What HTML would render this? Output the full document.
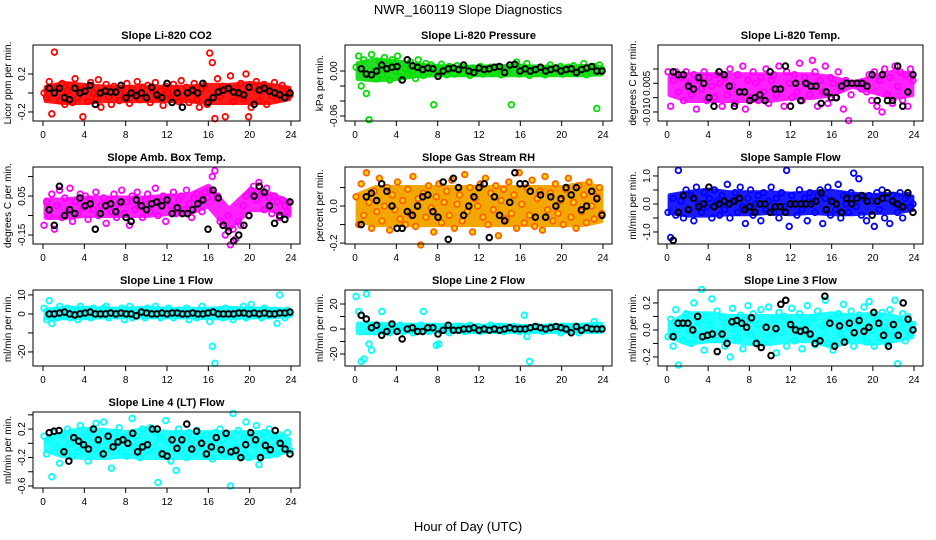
<!DOCTYPE html>
<html><head><meta charset="utf-8"><style>
body{margin:0;background:#fff;}
svg{display:block;font-family:"Liberation Sans",sans-serif;}
</style></head><body>
<svg id="c" width="936" height="540" viewBox="0 0 936 540">
<text x="468" y="14" text-anchor="middle" font-size="13">NWR_160119  Slope Diagnostics</text>
<text x="468" y="531" text-anchor="middle" font-size="13">Hour of Day (UTC)</text>
</svg>
<script>
const coColors = ["#ff0000","#00e000","#ff00ff","#ff00ff","#ff8c00","#0000ff","#00ffff","#00ffff","#00ffff","#00ffff"];
const bandColors = ["#ff1a1a","#22dd22","#ff22ff","#ff22ff","#f2a800","#1a1aff","#22ffff","#22ffff","#22ffff","#22ffff"];
const titles = ["Slope Li-820 CO2","Slope Li-820 Pressure","Slope Li-820 Temp.","Slope Amb. Box Temp.","Slope Gas Stream RH","Slope Sample Flow","Slope Line 1 Flow","Slope Line 2 Flow","Slope Line 3 Flow","Slope Line 4 (LT) Flow"];
const yTitles = ["Licor ppm per min.","kPa per min.","degrees C per min.","degrees C per min.","percent per min.","ml/min per min.","ml/min per min.","ml/min per min.","ml/min per min.","ml/min per min."];
const xTicks = [0,4,8,12,16,20,24];
const yTicks = [[-0.2,0,0.2],[-0.06,-0.04,-0.02,0],[-0.01,-0.005,0,0.005],[-0.15,-0.05,0.05,0.15],[-0.2,-0.1,0,0.1],[-1,-0.5,0,0.5,1],[-20,-10,0,10],[-20,-10,0,10,20],[-0.2,-0.1,0,0.1,0.2],[-0.6,-0.4,-0.2,0,0.2,0.4]];
const yTickLabels = [["-0.2","","0.2"],["-0.06","","","0.00"],["-0.010","","0.005",""],["-0.15","","0.05",""],["-0.2","","0.0",""],["-1.0","","0.0","","1.0"],["-20","","0","10"],["-20","","0","","20"],["-0.2","","0.0","","0.2"],["-0.6","","-0.2","","0.2",""]];
const yDomains = [[-0.295,0.505],[-0.0667,0.0347],[-0.01315,0.01336],[-0.196,0.199],[-0.205,0.211],[-1.43,1.32],[-27.4,12.6],[-29.6,31.2],[-0.267,0.296],[-0.628,0.44]];

// dense-cloud envelope per panel (hour bins)
const bandHours = [0.3,2,4,6,8,10,12,14,16,18,20,22,23.8];
const bandLo = [
[-0.08,-0.1,-0.1,-0.08,-0.08,-0.08,-0.08,-0.08,-0.1,-0.1,-0.1,-0.1,-0.06],
[-0.01,-0.012,-0.01,-0.006,-0.005,-0.005,-0.005,-0.005,-0.005,-0.005,-0.005,-0.005,-0.004],
[-0.004,-0.006,-0.006,-0.006,-0.006,-0.006,-0.005,-0.005,-0.004,-0.001,-0.003,-0.005,-0.004],
[-0.06,-0.06,-0.05,-0.05,-0.05,-0.05,-0.04,-0.04,0.0,-0.12,-0.02,-0.02,-0.05],
[-0.08,-0.1,-0.1,-0.1,-0.1,-0.1,-0.1,-0.1,-0.1,-0.1,-0.1,-0.1,-0.08],
[-0.3,-0.4,-0.4,-0.35,-0.35,-0.3,-0.35,-0.3,-0.35,-0.35,-0.3,-0.3,-0.2],
[-2,-2,-2,-1.5,-1.5,-1.5,-1.5,-1.5,-2,-2,-1.5,-1.5,-1],
[-3,-3,-2,-2,-2,-2,-2,-2,-2,-2,-2,-2,-2],
[-0.05,-0.1,-0.08,-0.08,-0.1,-0.1,-0.08,-0.08,-0.12,-0.08,-0.1,-0.08,-0.05],
[-0.1,-0.18,-0.2,-0.2,-0.18,-0.2,-0.2,-0.2,-0.2,-0.2,-0.2,-0.18,-0.1]
];
const bandHi = [
[0.06,0.1,0.08,0.06,0.06,0.06,0.06,0.06,0.08,0.08,0.1,0.08,0.05],
[0.01,0.015,0.012,0.008,0.006,0.005,0.005,0.006,0.006,0.005,0.005,0.006,0.005],
[0.002,0.003,0.003,0.003,0.003,0.003,0.003,0.003,0.002,0.0,0.002,0.004,0.003],
[0.03,0.03,0.04,0.04,0.04,0.04,0.05,0.05,0.1,-0.02,0.08,0.06,0.02],
[0.06,0.1,0.1,0.1,0.1,0.1,0.1,0.1,0.1,0.1,0.1,0.12,0.1],
[0.3,0.4,0.5,0.4,0.4,0.4,0.35,0.4,0.45,0.35,0.3,0.35,0.25],
[2,3,3,2.5,2.5,3,2.5,2.5,2.5,3,2.5,2.5,2],
[4,4,3,3,3,3,2,3,2,2,3,3,4],
[0.05,0.12,0.12,0.1,0.1,0.1,0.1,0.1,0.12,0.1,0.12,0.1,0.05],
[0.05,0.15,0.2,0.18,0.15,0.2,0.15,0.15,0.15,0.15,0.15,0.15,0.05]
];

const colA = [
[0.0,-0.05,0.12,-0.22,0.43,0.05,-0.08,0.1,-0.12,0.02,0.08,-0.1,0.15,-0.05,0.03,-0.25,0.06,-0.09,0.11,0.0,-0.06,0.14,-0.15,0.02,0.09,-0.04,-0.12,0.07,0.01,-0.08,0.05,-0.03,0.1,-0.11,0.04,0.0,0.12,-0.07,0.06,-0.02,0.08,-0.1,0.03,0.11,-0.05,0.02,-0.13,0.07,0.0,-0.06,0.09,0.04,-0.09,0.13,-0.03,0.06,-0.1,0.01,0.1,-0.07,-0.15,0.05,0.08,-0.12,0.42,0.32,-0.27,0.15,-0.04,0.07,-0.25,0.03,0.18,-0.09,0.05,-0.02,0.1,-0.06,0.2,-0.25,-0.15,0.06,0.12,-0.08,0.02,0.09,-0.12,0.05,-0.03,0.11,-0.07,0.0,0.08,-0.05,0.03,-0.02],
[0.005,0.02,-0.02,0.015,-0.03,-0.065,0.022,0.0,-0.01,0.012,-0.005,0.018,0.008,-0.012,0.015,0.0,0.02,-0.008,0.01,0.003,-0.005,0.012,0.0,-0.01,0.015,0.005,-0.006,0.01,-0.002,0.008,-0.045,0.004,-0.003,0.009,0.0,-0.005,0.006,0.002,-0.004,0.007,0.0,-0.003,0.005,0.001,-0.006,0.004,0.002,-0.002,0.006,-0.004,0.003,0.0,0.005,-0.003,0.002,0.006,-0.005,0.001,0.004,-0.002,-0.045,0.008,0.012,-0.004,0.005,0.0,0.01,-0.006,0.003,0.001,-0.003,0.005,0.0,-0.005,0.004,0.008,-0.002,0.003,0.0,0.006,-0.004,0.002,0.005,-0.003,0.007,0.0,-0.002,0.004,0.01,-0.005,0.003,0.0,0.006,-0.05,0.008,0.002],
[0.004,-0.008,0.001,0.004,-0.003,0.002,-0.006,0.004,0.0,-0.004,0.003,-0.009,0.001,-0.002,0.004,-0.006,0.002,-0.001,-0.005,0.003,0.0,-0.008,0.002,-0.004,0.005,-0.001,-0.007,0.003,-0.003,0.006,-0.009,0.001,-0.005,0.004,0.0,-0.006,0.002,-0.003,0.005,-0.007,0.001,0.003,-0.004,0.006,-0.002,-0.008,0.004,0.0,-0.005,0.003,-0.003,0.007,-0.006,0.002,0.0,-0.004,0.008,0.004,-0.008,0.001,-0.003,0.006,-0.007,0.002,0.0,-0.005,0.004,-0.002,-0.009,0.001,-0.013,-0.004,0.0,0.0,0.0,-0.002,0.0,-0.003,0.003,-0.006,0.004,-0.008,0.001,-0.01,0.005,-0.004,0.002,-0.007,0.006,-0.001,0.004,-0.006,0.003,-0.008,0.005,0.001],
[-0.1,0.02,-0.05,0.06,-0.12,0.0,0.08,-0.06,0.04,-0.03,0.09,-0.08,0.02,-0.04,0.06,-0.01,0.05,-0.07,0.03,-0.02,0.07,-0.05,0.0,0.04,-0.09,0.03,-0.03,0.06,-0.06,0.01,0.08,-0.04,0.02,-0.1,0.05,-0.02,0.07,0.0,-0.06,0.03,0.06,-0.03,0.01,0.09,-0.05,0.02,0.05,-0.08,0.04,0.0,0.07,-0.04,0.03,0.05,-0.02,0.08,0.01,-0.06,0.04,0.06,0.02,-0.03,0.07,0.04,0.08,0.15,0.18,0.05,-0.08,-0.1,-0.15,-0.05,-0.2,-0.12,-0.17,-0.08,-0.1,0.0,0.05,-0.05,0.08,0.1,0.03,0.12,0.06,-0.02,0.09,0.04,-0.04,0.05,0.02,-0.06,0.03,0.0,-0.03,0.02],
[0.05,-0.1,0.12,-0.05,0.18,0.02,-0.12,0.08,-0.03,0.15,-0.08,0.0,0.1,-0.13,0.06,-0.02,0.13,-0.07,0.03,-0.1,0.09,-0.04,0.16,-0.11,0.04,-0.21,0.07,-0.06,0.11,-0.01,-0.14,0.05,0.12,-0.09,0.02,0.08,-0.05,0.14,-0.12,0.01,0.06,-0.08,0.17,-0.03,0.1,-0.14,0.04,0.0,0.12,-0.06,0.15,-0.1,0.07,-0.02,0.11,-0.16,0.03,0.09,-0.07,0.13,-0.04,0.06,-0.12,0.18,0.01,-0.09,0.1,-0.05,0.14,-0.11,0.04,0.08,-0.13,0.16,-0.02,0.07,-0.08,0.12,-0.04,0.03,-0.1,0.09,0.15,-0.06,0.02,-0.12,0.11,-0.03,0.06,-0.09,0.13,0.0,-0.07,0.05,0.1,-0.04],
[-0.3,-1.2,0.2,-0.4,1.2,0.1,-0.5,0.5,-0.2,0.3,-0.6,0.6,0.0,-0.3,0.4,-0.1,0.2,-0.5,0.5,0.1,-0.4,0.3,-0.2,0.7,-0.5,0.1,0.4,-0.3,0.6,-0.1,-0.7,0.2,0.5,-0.4,0.0,0.3,-0.6,0.4,-0.2,0.1,0.6,-0.3,0.2,-0.5,0.4,-0.1,1.2,-0.8,0.3,0.0,-0.4,0.5,-0.2,0.2,-0.6,0.4,0.1,-0.3,0.3,0.5,-0.7,0.2,0.6,-0.4,0.1,-0.2,0.7,-0.5,0.3,0.0,-0.3,0.4,1.1,-0.1,0.9,-0.4,0.2,-0.6,0.3,0.1,-0.8,0.4,-0.2,0.5,-0.5,0.2,-0.7,0.3,0.0,-0.3,0.4,-0.5,0.2,0.3,-0.1,0.0],
[3,-3,7,-5,1,-2,4,0,-1,3,-2,2,0,-3,4,1,-1,2,-2,3,0,1,-1,3,4,-2,0,2,-1,1,3,-3,0,4,-2,1,-1,2,0,-2,3,1,-1,4,0,-2,2,-1,3,0,-2,1,2,-1,0,3,-3,1,0,-2,2,4,-1,0,-4,-17,-26,1,2,-2,3,0,1,-3,2,-1,0,4,-2,1,5,-1,2,0,-2,3,1,-1,0,2,-5,10,1,-2,2,0],
[26,14,-26,-24,28,-12,-17,3,-2,2,14,-1,1,-3,2,0,-1,3,-2,1,0,2,-3,1,-1,3,14,0,-2,1,2,-13,-12,0,-1,2,-3,1,0,-1,2,0,-2,1,3,-1,0,2,-2,1,0,-1,3,0,-1,2,1,-2,0,1,-1,2,0,-2,1,11,-6,-26,1,-1,2,0,-2,1,0,2,-1,1,0,-3,2,0,1,-1,2,0,-3,1,0,2,-1,1,6,0,-1,1],
[-0.05,0.08,-0.12,0.15,-0.26,0.03,-0.08,0.12,0.0,-0.1,0.2,-0.04,0.06,0.3,-0.15,0.1,0.04,0.23,-0.07,0.14,-0.02,0.09,-0.12,0.05,-0.2,0.16,0.01,-0.06,0.11,-0.14,0.07,0.18,-0.03,0.12,-0.09,0.04,0.15,-0.1,0.02,0.17,-0.05,0.08,-0.17,0.13,-0.02,0.1,-0.12,0.05,0.16,-0.08,0.01,0.12,-0.14,0.06,0.18,-0.04,0.09,-0.11,0.14,-0.06,0.03,0.22,-0.1,0.08,-0.15,0.05,0.12,-0.03,0.19,-0.08,0.02,0.14,-0.12,0.06,0.11,-0.05,0.17,-0.09,0.21,0.0,-0.12,0.08,-0.06,0.13,0.02,-0.1,0.15,-0.04,0.22,-0.25,0.05,0.12,-0.08,0.1,-0.02,0.04],
[0.1,-0.15,0.05,-0.47,0.15,-0.05,-0.28,0.12,-0.1,0.2,0.0,-0.18,0.08,-0.12,0.25,-0.05,0.1,-0.25,0.18,-0.08,0.28,0.02,-0.15,0.3,-0.1,0.05,-0.35,0.15,-0.02,0.22,-0.12,0.08,-0.18,0.12,0.35,-0.05,0.1,-0.2,0.2,0.0,-0.1,0.22,-0.06,0.15,-0.55,0.08,-0.15,0.32,0.02,-0.25,0.12,-0.38,0.2,-0.08,0.1,-0.2,0.15,0.05,-0.12,0.18,-0.05,0.1,-0.18,0.12,0.0,-0.22,0.15,-0.08,0.2,0.05,-0.15,0.1,-0.6,0.42,-0.05,0.18,-0.12,0.08,0.3,-0.2,0.12,-0.02,0.25,-0.3,0.05,0.15,-0.1,0.2,-0.05,0.1,-0.15,0.12,0.0,-0.08,0.15,-0.1]
];
const blackA = [
[0.05,0.0,0.05,-0.05,-0.07,0.05,0.0,0.02,0.08,-0.12,0.0,0.02,0.01,0.01,0.08,-0.05,0.0,-0.03,0.0,-0.05,0.06,-0.02,-0.05,0.1,-0.1,0.0,-0.15,0.0,0.03,0.0,0.1,-0.1,-0.05,0.01,0.03,0.05,0.01,0.0,-0.02,0.06,-0.12,0.03,0.05,0.02,0.0,-0.02,-0.05,0.0],
[0.003,-0.004,-0.005,0.0,0.008,0.003,0.005,0.006,-0.012,0.015,0.007,0.005,0.002,0.004,0.003,-0.007,0.0,0.003,0.004,0.002,0.008,0.0,-0.002,0.004,0.002,0.003,0.005,0.006,-0.002,0.008,0.009,0.0,0.003,0.0,0.002,0.005,0.0,0.002,0.004,0.0,0.002,0.003,-0.002,0.002,0.004,0.006,0.0,0.0],
[0.004,0.003,0.003,-0.001,-0.002,0.002,0.0,-0.005,-0.008,0.004,0.003,-0.001,-0.008,-0.003,-0.003,-0.006,-0.005,-0.004,-0.006,0.004,-0.002,-0.002,0.006,-0.008,0.0,-0.006,0.0,-0.001,-0.001,-0.007,-0.003,-0.005,-0.005,-0.001,0.0,0.0,0.0,0.0,-0.001,0.003,-0.006,0.003,-0.006,-0.006,0.006,-0.008,-0.003,0.003],
[-0.02,-0.1,0.1,-0.05,-0.02,-0.04,0.04,0.0,0.01,-0.12,-0.04,0.0,0.01,-0.03,0.02,-0.06,-0.08,0.03,0.0,-0.02,0.01,0.02,0.0,0.03,-0.04,-0.01,-0.04,-0.04,-0.02,0.01,0.03,-0.12,0.08,0.04,-0.1,-0.13,-0.18,-0.15,-0.1,-0.05,0.05,0.1,0.07,0.0,-0.09,-0.05,-0.07,0.02],
[-0.1,0.05,0.07,0.03,0.12,0.08,0.0,-0.12,-0.12,-0.03,-0.05,0.0,0.05,0.06,-0.03,-0.06,0.13,-0.18,0.15,0.1,-0.05,0.0,0.05,0.1,0.12,-0.17,0.05,-0.05,-0.08,0.02,0.18,0.12,0.12,0.08,-0.06,0.06,-0.06,0.05,0.0,0.04,0.1,0.06,0.1,-0.02,0.0,0.08,0.04,-0.05],
[-1.3,-0.3,0.3,-0.2,0.2,-0.1,0.0,0.6,-0.1,0.0,0.1,0.0,0.1,0.2,-0.2,-0.1,-0.3,0.0,0.0,-0.3,-0.1,-0.1,-0.3,0.0,0.0,0.0,0.0,0.0,0.1,0.4,-0.2,0.1,0.0,-0.3,0.2,0.0,0.2,0.3,0.1,-0.4,0.1,0.2,0.4,0.1,0.0,-0.1,0.4,-0.3],
[0,0,0.5,1,0,-0.5,0,0.5,1,0,0,0,0.5,0,0.5,0,0,-1,1,0.5,0,0,0.5,0,0.5,0.5,0,0,0.5,0,0,0.5,1,0,0,0,0,0.5,0.5,0,0.5,0,0.5,0,0,0.5,0.5,1],
[11,8,1,3,-5,-2,4,-2,-8,0,1,-2,-2,1,1,-4,-1,3,-1,-1,0,0,1,-1,0,-1,0,-1,0,1,0,0,0,1,2,1,0,1,2,1,0,-3,2,-1,1,0,0,0],
[-0.05,0.05,0.05,0.05,0.0,0.1,-0.05,-0.04,-0.03,-0.16,-0.03,-0.1,0.06,0.07,0.05,0.02,0.09,-0.1,-0.13,0.02,-0.19,0.01,0.19,0.22,0.04,0.0,-0.01,0.0,-0.03,-0.1,-0.08,0.25,0.05,-0.12,0.03,-0.09,0.05,-0.02,0.07,-0.01,0.02,0.13,0.05,-0.04,-0.12,0.04,-0.04,0.2,0.08,0.0],
[0.15,0.17,0.18,-0.12,-0.25,0.08,0.03,-0.02,-0.08,0.2,0.05,-0.15,0.1,-0.05,0.02,0.05,0.0,0.14,-0.12,-0.05,-0.02,0.2,0.2,-0.15,-0.18,0.05,-0.07,0.05,0.27,-0.08,0.17,0.0,-0.15,-0.05,0.08,-0.09,0.14,-0.12,-0.1,-0.2,-0.02,0.15,0.05,-0.2,-0.03,-0.09,0.18,0.0,-0.08,-0.15]
];

const NS="http://www.w3.org/2000/svg";
const svg=document.getElementById('c');
const colBox=[[33,300,43,291],[345,612,355,603],[658,923,667,914]];
const rowBox=[[45,121],[167,244],[290,366],[412,488]];
function mk(tag,attrs,parent){const e=document.createElementNS(NS,tag);for(const k in attrs)e.setAttribute(k,attrs[k]);(parent||svg).appendChild(e);return e;}

for(let p=0;p<10;p++){
  const c=colBox[p%3], r=rowBox[Math.floor(p/3)];
  const [lo,hi]=yDomains[p];
  const xS=h=>c[2]+(c[3]-c[2])*h/24;
  const yS=v=>r[1]-(v-lo)/(hi-lo)*(r[1]-r[0]);
  const g=mk('g',{});
  
  
  const t=mk('text',{x:(c[0]+c[1])/2,y:r[0]-6,'text-anchor':'middle','font-size':11,'font-weight':'bold'},g);
  t.textContent=titles[p];
  
  
  const yt=mk('text',{transform:`translate(${c[0]-22},${(r[0]+r[1])/2}) rotate(-90)`,'text-anchor':'middle','font-size':10},g);
  yt.textContent=yTitles[p];
  
  
  // dense cloud band
  const top=bandHours.map((h,i)=>xS(h)+','+yS(bandHi[p][i]));
  const bot=bandHours.map((h,i)=>xS(h)+','+yS(bandLo[p][i])).reverse();
  const band=mk('polygon',{points:top.concat(bot).join(' '),fill:bandColors[p],stroke:bandColors[p],'stroke-width':5,'stroke-linejoin':'round'},g);
  
  
  // points
  const cg=mk('g',{fill:'none',stroke:coColors[p],'stroke-width':1.8},g);
  
  
  const A=colA[p];
  A.forEach((v,i)=>{const e=mk('circle',{cx:xS(0.1+i*23.8/(A.length-1)),cy:yS(v),r:2.8},cg);
    if(p===4){e.setAttribute('fill','#ffd700');e.setAttribute('stroke','#ff6000');}
    
    });
  const bg=mk('g',{fill:'none',stroke:'#000','stroke-width':2},g);
  
  
  const B=blackA[p];
  B.forEach((v,i)=>{const e=mk('circle',{cx:xS(0.6+i*23.3/(B.length-1)),cy:yS(v),r:2.8},bg);
    
    });
  // box
  const bx=mk('rect',{x:c[0],y:r[0],width:c[1]-c[0],height:r[1]-r[0],fill:'none',stroke:'#000','stroke-width':1},g);
  
  
  // x axis
  xTicks.forEach(h=>{mk('line',{x1:xS(h),x2:xS(h),y1:r[1],y2:r[1]+5,stroke:'#000'},g);
    const l=mk('text',{x:xS(h),y:r[1]+17,'text-anchor':'middle','font-size':10},g);l.textContent=h;
    
    });
  // y axis
  yTicks[p].forEach((v,i)=>{const y=yS(v);mk('line',{x1:c[0]-5,x2:c[0],y1:y,y2:y,stroke:'#000'},g);
    const s=yTickLabels[p][i]; if(s){const l=mk('text',{transform:`translate(${c[0]-8},${y}) rotate(-90)`,'text-anchor':'middle','font-size':10},g);l.textContent=s;
    
    }});
}
</script>
</body></html>
